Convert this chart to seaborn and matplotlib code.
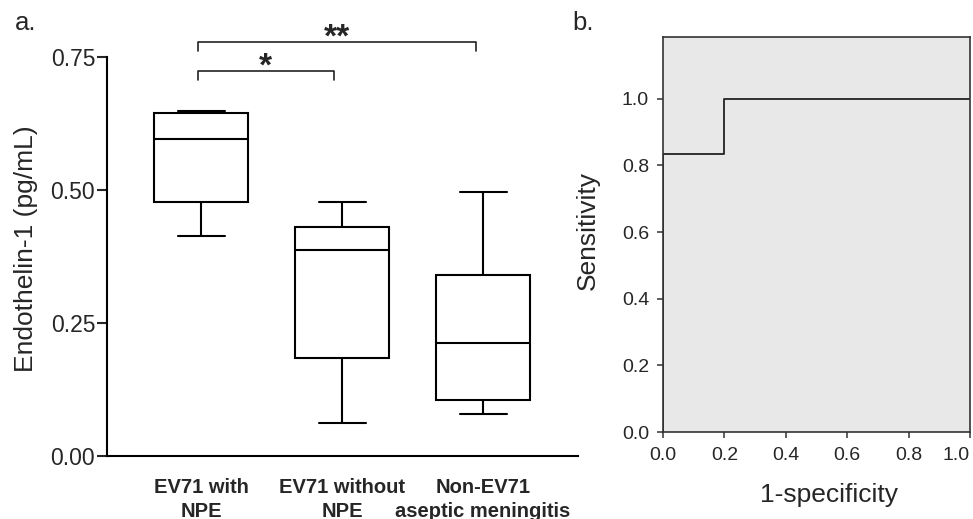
import seaborn as sns
import matplotlib.pyplot as plt
import pandas as pd
import numpy as np

# Données (résumé 5 points : min, Q1, médiane, Q3, max)
groups = ['EV71 with\nNPE', 'EV71 without\nNPE', 'Non-EV71\naseptic meningitis']
ev71_npe = [0.414, 0.477, 0.596, 0.645, 0.648]
ev71_no_npe = [0.062, 0.184, 0.387, 0.430, 0.477]
non_ev71 = [0.079, 0.105, 0.212, 0.340, 0.496]
y_ticks_a = [0.0, 0.25, 0.50, 0.75]

# Courbe ROC
fpr = [0.0, 0.0, 0.2, 1.0]
tpr = [0.0, 0.833, 1.0, 1.0]
ticks_b = [0.0, 0.2, 0.4, 0.6, 0.8, 1.0]

df = pd.DataFrame({
    'group': np.repeat(groups, 5),
    'value': ev71_npe + ev71_no_npe + non_ev71,
})

sns.set_style('white')
plt.rcParams['font.family'] = ['Liberation Sans', 'DejaVu Sans']

fig = plt.figure(figsize=(9.73, 5.19), dpi=100)

# ---- panneau a : boxplot
ax = fig.add_axes([0.1100, 0.1214, 0.4841, 0.7688])
sns.boxplot(data=df, x='group', y='value', order=groups, color='white',
            linecolor='black', linewidth=1.5, width=0.667, whis=(0, 100),
            showfliers=False, ax=ax)
ax.set_xlim(-0.667, 2.674)
ax.set_ylim(0, 0.75)
ax.set_yticks(y_ticks_a)
ax.set_yticklabels(['%.2f' % t for t in y_ticks_a])
for s in ['top', 'right']:
    ax.spines[s].set_visible(False)
for s in ['left', 'bottom']:
    ax.spines[s].set_linewidth(1.5)
    ax.spines[s].set_color('black')
ax.tick_params(axis='y', length=7, width=1.5, pad=1.5, labelsize=16.5, left=True, direction='out')
ax.tick_params(axis='x', length=0, pad=16, labelsize=14.5)
for lbl in ax.get_xticklabels():
    lbl.set_fontweight('bold')
    lbl.set_linespacing(1.3)
ax.set_xlabel('')
ax.set_ylabel('Endothelin-1 (pg/mL)', fontsize=19)
ax.yaxis.set_label_coords(-0.147, 0.52)

# crochets de significativité
def bracket(x0, x1, y, h, txt, ty):
    ax.plot([x0, x0, x1, x1], [y - h, y, y, y - h], color='#222', lw=1.2, clip_on=False)
    ax.text((x0 + x1) / 2, ty, txt, ha='center', va='center', fontsize=24, fontweight='bold', clip_on=False)

bracket(-0.02, 1.95, 0.778, 0.017, '**', 0.786)
bracket(-0.02, 0.94, 0.724, 0.017, '*', 0.731)

# ---- panneau b : ROC
ax2 = fig.add_axes([0.6814, 0.1676, 0.3155, 0.7611])
ax2.set_facecolor('#e8e8e8')
sns.lineplot(x=fpr, y=tpr, estimator=None, sort=False, drawstyle='steps-post',
             color='#222222', linewidth=1.3, ax=ax2)
ax2.set_xlim(0, 1)
ax2.set_ylim(0, 1.185)
ax2.set_xticks(ticks_b)
ax2.set_yticks(ticks_b)
ax2.set_xticklabels(['%.1f' % t for t in ticks_b])
ax2.set_yticklabels(['%.1f' % t for t in ticks_b])
ax2.get_xticklabels()[-1].set_horizontalalignment('right')
for s in ax2.spines.values():
    s.set_color('#333333')
    s.set_linewidth(1.2)
ax2.tick_params(length=4, width=1.1, color='#333333', labelsize=14,
                left=True, bottom=True, direction='out')
ax2.tick_params(axis='x', pad=7)
ax2.tick_params(axis='y', pad=6)
ax2.set_xlabel('1-specificity', fontsize=19)
ax2.set_ylabel('Sensitivity', fontsize=19)
ax2.xaxis.set_label_coords(0.54, -0.13)
ax2.yaxis.set_label_coords(-0.206, 0.51)

fig.text(15 / 973, 1 - 30 / 519, 'a.', fontsize=18.5, va='baseline')
fig.text(572 / 973, 1 - 30 / 519, 'b.', fontsize=18.5, va='baseline')

plt.savefig('out.png', dpi=100)
